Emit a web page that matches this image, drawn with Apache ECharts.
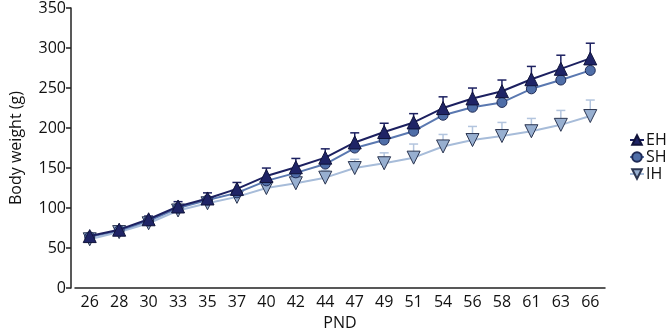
<!DOCTYPE html>
<html>
<head>
<meta charset="utf-8">
<script src="https://cdn.jsdelivr.net/npm/echarts@6/dist/echarts.min.js"></script>
<style>
  html, body { margin: 0; padding: 0; background: #fff; }
</style>
</head>
<body>
<div id="chart" style="width: 669px; height: 336px"></div>
<script>
// PND days
var pnd = ["26", "28", "30", "33", "35", "37", "40", "42", "44", "47", "49", "51", "54", "56", "58", "61", "63", "66"];
// body weight (g)
var ehVals = [65, 73, 86, 102, 112, 124, 140, 151, 163, 182, 195, 207, 225, 237, 246, 261, 274, 287];
var shVals = [64, 72, 84, 100, 110, 119, 134, 144, 155, 175, 185, 196, 216, 226, 232, 249, 260, 272];
var ihVals = [61, 70, 81, 97, 106, 114, 125, 131, 138, 150, 156, 163, 177, 185, 190, 196, 204, 215];
// upper error (SEM)
var ehErr = [3, 3, 4, 6, 7, 8, 10, 11, 11, 12, 11, 11, 14, 13, 14, 16, 17, 19];
var ihErr = [2, 3, 3, 4, 5, 6, 7, 8, 9, 11, 13, 17, 15, 17, 17, 16, 18, 20];

var font = "Open Sans";

function errData(vals, errs) {
  return vals.map(function (v, i) {
    return [i, v, v + errs[i]];
  });
}

function errRender(color) {
  return function (params, api) {
    var p0 = api.coord([api.value(0), api.value(1)]);
    var p1 = api.coord([api.value(0), api.value(2)]);
    var cap = 4.5;
    return {
      type: "group",
      children: [
        { type: "line", shape: { x1: p0[0], y1: p0[1], x2: p1[0], y2: p1[1] }, style: { stroke: color, lineWidth: 1.5 } },
        { type: "line", shape: { x1: p1[0] - cap, y1: p1[1], x2: p1[0] + cap, y2: p1[1] }, style: { stroke: color, lineWidth: 1.5 } },
      ],
    };
  };
}

var myChart = echarts.init(document.getElementById("chart"));
var option = {
  backgroundColor: "#fff",
  animation: false,
  textStyle: { fontFamily: font },
  grid: { left: 62, right: 64, top: 8, bottom: 40 },
  legend: {
    orient: "vertical",
    left: 624,
    top: 127,
    itemGap: 1,
    itemWidth: 14,
    itemHeight: 12,
    textStyle: { fontFamily: font, fontSize: 16, color: "#111", padding: [0, 0, 0, -3] },
    data: ["EH", "SH", "IH"],
  },
  xAxis: {
    type: "category",
    data: pnd,
    name: "PND",
    nameLocation: "middle",
    nameGap: 24,
    nameTextStyle: { fontSize: 16, color: "#111", fontFamily: font },
    axisLine: { lineStyle: { color: "#222", width: 1.5 } },
    axisTick: { alignWithLabel: true, length: 5, lineStyle: { color: "#222", width: 1.5 } },
    axisLabel: { fontSize: 16, color: "#111", margin: 6, fontFamily: font },
  },
  yAxis: {
    type: "value",
    min: 0,
    max: 350,
    interval: 50,
    offset: 4,
    name: "Body weight (g)",
    nameLocation: "middle",
    nameGap: 47,
    nameTextStyle: { fontSize: 16, color: "#111", fontFamily: font },
    axisLine: { show: true, lineStyle: { color: "#222", width: 1.5 } },
    axisTick: { show: true, length: 5, lineStyle: { color: "#222", width: 1.5 } },
    axisLabel: { fontSize: 16, color: "#111", margin: 5, fontFamily: font },
    splitLine: { show: false },
  },
  series: [
    {
      type: "custom",
      name: "IH err",
      renderItem: errRender("#b3c5de"),
      data: errData(ihVals, ihErr),
      z: 1,
      silent: true,
    },
    {
      type: "custom",
      name: "EH err",
      renderItem: errRender("#1c2060"),
      data: errData(ehVals, ehErr),
      z: 1,
      silent: true,
    },
    {
      name: "IH",
      type: "line",
      data: ihVals,
      symbol: "triangle",
      symbolRotate: 180,
      symbolSize: 13,
      lineStyle: { color: "#a7bcd9", width: 2 },
      itemStyle: { color: "#97afd0", borderColor: "#2b3550", borderWidth: 1 },
      z: 2,
    },
    {
      name: "SH",
      type: "line",
      data: shVals,
      symbol: "circle",
      symbolSize: 10,
      lineStyle: { color: "#5a78b0", width: 2 },
      itemStyle: { color: "#4f6ea8", borderColor: "#1e2a55", borderWidth: 1 },
      z: 3,
    },
    {
      name: "EH",
      type: "line",
      data: ehVals,
      symbol: "triangle",
      symbolSize: 13,
      lineStyle: { color: "#1c2060", width: 2 },
      itemStyle: { color: "#1f2466", borderColor: "#10133a", borderWidth: 1 },
      z: 4,
    },
  ],
};
myChart.setOption(option);
window.onresize = function () {
  myChart.resize();
};
</script>
</body>
</html>
